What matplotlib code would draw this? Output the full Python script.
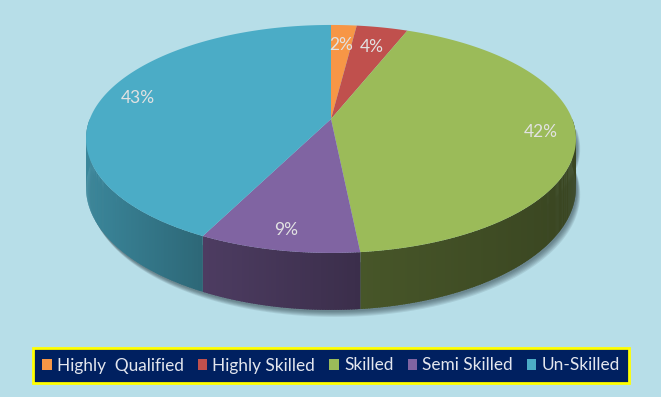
"""
3D-style pie of worker skill levels (Excel look, with perspective)
"""

import numpy as np
import matplotlib.pyplot as plt
from matplotlib.colors import to_rgb
from matplotlib.patches import Polygon, Patch

labels = ['Highly  Qualified', 'Highly Skilled', 'Skilled', 'Semi Skilled', 'Un-Skilled']
shares = [2.0, 4.0, 42.4, 9.0, 42.6]
colors = ['#f79646', '#c0504d', '#9bbb59', '#8064a2', '#4bacc6']

BG = '#b7dee8'
cx, cy = 331, 119        # where the slices meet, pixels
sx, sy = 241.2, 110.5    # projected radii
persp = 0.175            # front gets bigger, back smaller
depth = 47               # thickness at the centre line


def proj(t, r=1.0):
    # t in degrees clockwise from 12 o'clock, r relative radius
    a = np.radians(t)
    u, v = r * np.sin(a), -r * np.cos(a)
    w = 1 - persp * v
    return cx + sx * u / w, cy + sy * v / w, depth / w


def shade(x):
    # side gets darker towards the right
    return np.interp(x, [87, 203, 361, 576], [0.78, 0.6, 0.46, 0.37])


def darker(c, f):
    return tuple(np.array(to_rgb(c)) * f)


fig = plt.figure(figsize=(6.61, 3.97), dpi=100, facecolor=BG)
ax = fig.add_axes([0, 0, 1, 1])
ax.set_xlim(0, 661)
ax.set_ylim(397, 0)
ax.axis('off')

total = sum(shares)
edges = np.concatenate([[0], np.cumsum(shares)]) / total * 360

# soft shadow under the pie
tt = np.linspace(90, 270, 300)
bx, by, bd = proj(tt)
for k in range(6):
    off = 7 - k
    xs = np.concatenate([bx + off * 0.6, (bx + off * 0.6)[::-1]])
    ys = np.concatenate([by + bd + off, by[::-1] + 10])
    ax.add_patch(Polygon(np.column_stack([xs, ys]), closed=True,
                         fc='#1c2c33', ec='none', alpha=0.1))

# front side of each slice, in thin strips to get the shading
for i in range(len(shares)):
    t1, t2 = max(edges[i], 90), min(edges[i + 1], 270)
    if t2 <= t1:
        continue
    steps = np.linspace(t1, t2, max(int((t2 - t1) * 2), 2))
    for a, b in zip(steps[:-1], steps[1:]):
        x, y, d = proj(np.linspace(a, min(b + 0.3, t2), 4))
        poly = np.column_stack([np.concatenate([x, x[::-1]]),
                                np.concatenate([y, (y + d)[::-1]])])
        f = shade(np.mean(x))
        ax.add_patch(Polygon(poly, closed=True, fc=darker(colors[i], f), ec='none'))

# top faces
for i in range(len(shares)):
    x, y, _ = proj(np.linspace(edges[i], edges[i + 1], 200))
    poly = np.column_stack([np.concatenate([[cx], x]), np.concatenate([[cy], y])])
    ax.add_patch(Polygon(poly, closed=True, fc=colors[i], ec='none'))

# percentage labels
lab_r = [0.76, 0.76, 0.86, 0.87, 0.85]
for i, v in enumerate(shares):
    mid = (edges[i] + edges[i + 1]) / 2
    x, y, _ = proj(mid, lab_r[i])
    ax.text(x, y, f'{v:.0f}%', color='#e2e2e2', fontsize=12.5, family='Lato',
            ha='center', va='center')

handles = [Patch(facecolor=c, edgecolor='none') for c in colors]
leg = ax.legend(handles, labels, loc='center', bbox_to_anchor=(331 / 661, 1 - 365.5 / 397),
                ncol=5, frameon=True, fancybox=False,
                prop={'family': 'Lato', 'size': 12.4},
                handlelength=0.55, handleheight=0.55, handletextpad=0.3,
                columnspacing=0.82, borderpad=0.55, borderaxespad=0)
frame = leg.get_frame()
frame.set_facecolor('#002060')
frame.set_edgecolor('#ffff00')
frame.set_linewidth(2)
frame.set_alpha(1)
for t in leg.get_texts():
    t.set_color('#e3e6ee')

fig.savefig('out.png', dpi=100, facecolor=BG)
